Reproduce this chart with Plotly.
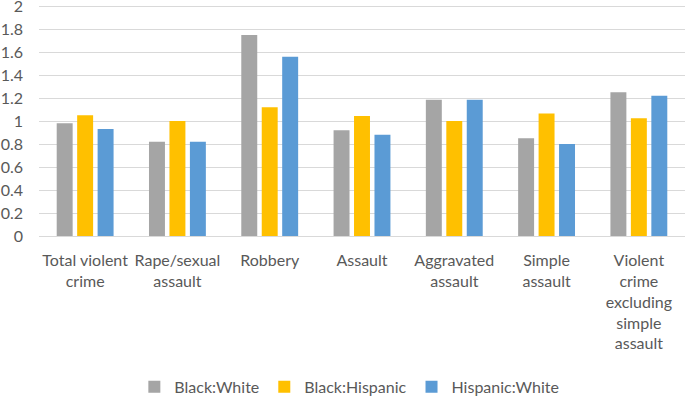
import plotly.graph_objects as go

categories = ["Total violent<br>crime", "Rape/sexual<br>assault", "Robbery", "Assault",
              "Aggravated<br>assault", "Simple<br>assault",
              "Violent<br>crime<br>excluding<br>simple<br>assault"]
black_white = [0.98, 0.82, 1.75, 0.92, 1.185, 0.85, 1.25]
black_hispanic = [1.05, 1.0, 1.12, 1.045, 1.0, 1.065, 1.025]
hispanic_white = [0.93, 0.82, 1.56, 0.88, 1.185, 0.80, 1.22]
y_ticks = [0, 0.2, 0.4, 0.6, 0.8, 1, 1.2, 1.4, 1.6, 1.8, 2]

font_family = "Lato"
text_color = "#595959"

fig = go.Figure()
for name, vals, col in [("Black:White", black_white, "#A5A5A5"),
                        ("Black:Hispanic", black_hispanic, "#FFC000"),
                        ("Hispanic:White", hispanic_white, "#5B9BD5")]:
    fig.add_trace(go.Bar(x=categories, y=vals, name=name, marker_color=col,
                         marker_line_width=0))

fig.update_layout(
    width=685, height=396,
    margin=dict(l=39, r=0, t=5, b=160, autoexpand=False),
    paper_bgcolor="white", plot_bgcolor="white",
    barmode="group", bargap=0.335, bargroupgap=0.22,
    font=dict(family=font_family, size=16, color=text_color),
    showlegend=True,
    legend=dict(orientation="h", xref="container", yref="container",
                x=0.51, xanchor="center", y=0.023, yanchor="middle",
                font=dict(size=16, color=text_color), traceorder="normal"),
)
fig.update_xaxes(showline=True, linecolor="#D9D9D9", linewidth=1, ticks="",
                 tickfont=dict(size=16, color=text_color), tickangle=0,
                 automargin=False, ticklabelstandoff=10)
fig.update_yaxes(range=[0, 2.01], tickvals=y_ticks, ticktext=[f"{v:g}" for v in y_ticks],
                 showgrid=True, gridcolor="#D9D9D9", gridwidth=1, zeroline=False,
                 showline=False, ticks="", tickfont=dict(size=16, color=text_color),
                 automargin=False, ticklabelstandoff=15, ticklabeloverflow="allow")

fig.write_html("out.html", config={"displayModeBar": False},
               post_script="document.body.style.margin='0';document.body.style.overflow='hidden';")
